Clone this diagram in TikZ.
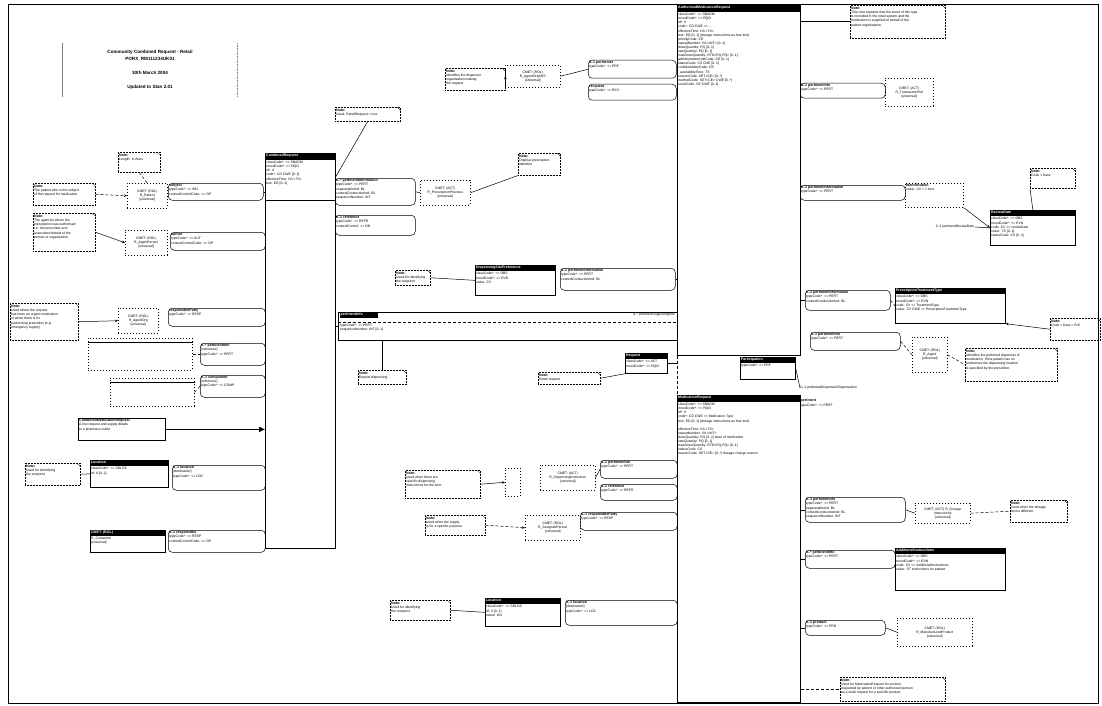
\documentclass[tikz,border=0pt]{standalone}
\usepackage{fontspec}
\setmainfont{Liberation Sans}
\usetikzlibrary{arrows.meta}
\newcommand\tf{\fontsize{3.4}{4.1}\selectfont}
\newcommand\tb{\fontsize{3.6}{4.2}\selectfont\bfseries}
% class box: name x y w h header body
\newcommand\Ucls[7]{%
\node[clsbox, minimum width=#4pt, minimum height=#5pt] (#1) at (#2,#3) {};
\fill ([shift={(0.3pt,-0.3pt)}]#1.north west) rectangle ([yshift=-6pt]#1.north east);
\node[anchor=north west, text=white, font=\tb, inner sep=0.8pt] at (#1.north west) {#6};
\node[anchor=north west, align=left, inner sep=1pt, font=\tf] at ([yshift=-6.3pt]#1.north west) {#7};}
% note: name x y w h text
\newcommand\Unote[6]{%
\node[umlnote, minimum width=#4pt, minimum height=#5pt] (#1) at (#2,#3) {};
\draw[line width=0.35pt] ([xshift=-3.5pt]#1.north east) -- ([yshift=-3.5pt]#1.north east);
\node[anchor=north west, align=left, inner sep=1pt, font=\tf] at ([yshift=-1pt]#1.north west) {{\tb Note:}\\#6};}
% stereotype (CMET) box: name x y w h text
\newcommand\Ust[6]{%
\node[stereo, minimum width=#4pt, minimum height=#5pt] (#1) at (#2,#3) {};
\node[align=center, inner sep=0.5pt, font=\tf] at (#1.center) {#6};}
% role label: name x y w h tab body
\newcommand\Urole[7]{%
\node[rolelab, minimum width=#4pt, minimum height=#5pt] (#1) at (#2,#3) {};
\node[anchor=north west, align=left, inner sep=1pt, font=\tf] at (#1.north west) {{\tb #6}\\#7};}
\tikzset{
  clsbox/.style={draw, line width=0.7pt, anchor=north west, inner sep=0pt},
  umlnote/.style={draw, densely dotted, line width=0.5pt, anchor=north west, inner sep=0pt},
  stereo/.style={draw, dashed, dash pattern=on 1pt off 2pt, line width=0.5pt, anchor=north west, inner sep=0pt},
  rolelab/.style={draw, line width=0.5pt, rounded corners=4pt, anchor=north west, inner sep=0pt},
  conn/.style={line width=0.5pt},
  dconn/.style={line width=0.5pt, densely dashed},
  arr/.style={line width=0.5pt, -{Stealth[length=3pt,width=2.5pt]}},
  bigarr/.style={line width=1.6pt, -{Triangle[length=6pt,width=5pt]}},
  tall/.style={draw, line width=0.8pt, anchor=north west, inner sep=0pt}
}
\begin{document}
\begin{tikzpicture}[x=1pt,y=-1pt]
\useasboundingbox (0,0) rectangle (1102,706);
\fill[white] (0,0) rectangle (1102,706);
\draw[line width=0.8pt] (8,4) rectangle (1098,703);

% ---------- title block
\coordinate (tl) at (62,43);
\coordinate (tr) at (237,43);
\draw[line width=0.6pt, gray] (tl) -- ++(0,54);
\draw[line width=0.6pt, densely dotted, gray] (tr) -- ++(0,54);
\node[font=\fontsize{4.6}{5.2}\selectfont\bfseries, align=center, inner sep=0pt] (ttext) at (150,70) {Community Combined Request - Retail\\[1pt]PORX\_RM111234UK01\\[9pt]30th March 2004\\[9pt]Updated to Stan 2.01};

% ---------- main tall boxes
\node[tall, minimum width=70pt, minimum height=395pt] (mainL) at (265,153) {};
\fill ([shift={(0.3pt,-0.3pt)}]mainL.north west) rectangle ([yshift=-7pt]mainL.north east);
\node[anchor=north west, text=white, font=\tb, inner sep=1pt] at (mainL.north west) {CombinedRequest};
\node[anchor=north west, align=left, inner sep=1pt, font=\tf] at ([yshift=-7pt]mainL.north west) {classCode*: <= SBADM\\moodCode*: <= RQO\\id*: II\\code*: CD CWE {}[0..1]\\effectiveTime: IVL<TS>\\text: ED {}[0..1]};
\draw[line width=0.6pt] ([yshift=-47pt]mainL.north west) -- ([yshift=-47pt]mainL.north east);

\node[tall, minimum width=123pt, minimum height=350pt] (mainU) at (677,5) {};
\fill ([shift={(0.3pt,-0.3pt)}]mainU.north west) rectangle ([yshift=-7pt]mainU.north east);
\node[anchor=north west, text=white, font=\tb, inner sep=1pt] at (mainU.north west) {AuthorisedMedicationRequest};
\node[anchor=north west, align=left, inner sep=1pt, font=\tf] at ([yshift=-7pt]mainU.north west) {classCode*: <= SBADM\\moodCode*: <= RQO\\id*: II\\code*: CD CWE <= ...\\effectiveTime: IVL<TS>\\text: ED {}[0..1] (dosage instructions as free text)\\priorityCode: CE\\repeatNumber: IVL<INT> {}[0..1]\\doseQuantity: PQ {}[0..1]\\rateQuantity: PQ {}[0..1]\\maxDoseQuantity: RTO<PQ,PQ> {}[0..1]\\administrationUnitCode: CE {}[0..1]\\statusCode: CS CNE {}[0..1]\\confidentialityCode: CE\\ \ \ availabilityTime: TS\\reasonCode: SET<CE> {}[0..*]\\methodCode: SET<CE> CWE {}[0..*]\\routeCode: CE CWE {}[0..1]};

\node[tall, minimum width=123pt, minimum height=307pt] (mainD) at (677,395) {};
\fill ([shift={(0.3pt,-0.3pt)}]mainD.north west) rectangle ([yshift=-7pt]mainD.north east);
\node[anchor=north west, text=white, font=\tb, inner sep=1pt] at (mainD.north west) {MedicationRequest};
\node[anchor=north west, align=left, inner sep=1pt, font=\tf] at ([yshift=-7pt]mainD.north west) {classCode*: <= SBADM\\moodCode*: <= RQO\\id*: II\\code*: CD CWE <= Medication Type\\text: ED {}[0..1]  (dosage instructions as free text)\\ \\effectiveTime: IVL<TS>\\repeatNumber: IVL<INT>\\doseQuantity: PQ {}[0..1] dose of medication\\rateQuantity: PQ {}[0..1]\\maxDoseQuantity: RTO<PQ,PQ> {}[0..1]\\statusCode: CS\\reasonCode: SET<CE> {}[0..*] dosage change reason};
\draw[dconn] (mainU.south west) -- (mainD.north west);

% ---------- middle band
\node[draw, line width=0.6pt, anchor=north west, minimum width=339pt, minimum height=28pt, inner sep=0pt] (band) at (338,312) {};
\fill (340,313) rectangle (378,318);
\node[anchor=north west, text=white, font=\tb, inner sep=0.5pt] at (340,312.5) {pertinentInfo};
\draw[densely dashed, line width=0.4pt] (338,322) -- (677,322);
\node[anchor=north west, align=left, inner sep=1pt, font=\tf] at (339,323) {typeCode*: <= PERT\\sequenceNumber: INT {}[0..1]};
\node[anchor=north east, font=\tf, inner sep=1pt] at (676,312) {0..* pertinentSupportingInfo};

% ---------- left column
\Unote{n1}{118}{152}{42}{20}{Length: 6 chars}
\Ust{s1}{127}{183}{40}{25}{CMET: (ROL)\\R\_Patient\\{}[universal]}
\draw[dconn] (n1.south) -- (s1.north);
\Unote{n2}{33}{183}{62}{22}{The patient who is the subject\\of the request for medication}
\draw[arr, densely dashed] (n2.east) -- (s1.west);
\Urole{r1}{168}{183}{95}{17}{subject}{typeCode*: <= SBJ\\contextControlCode: <= OP}
\draw[conn] (r1.east) -- (r1.east -| mainL.west);

\Unote{n3}{33}{213}{62}{38}{The agent by whom the\\prescription was authorised\\i.e. the prescriber and\\associated details of the\\person or organisation}
\Ust{s2}{125}{230}{42}{25}{CMET: (ROL)\\R\_AgentPerson\\{}[universal]}
\draw[arr] (n3.east) -- (s2.west);
\Urole{r2}{170}{232}{95}{18}{author}{typeCode*: <= AUT\\contextControlCode: <= OP}
\draw[conn] (r2.east) -- (r2.east -| mainL.west);

\Unote{n4}{10}{303}{68}{37}{Used where the request\\has been an urgent medication\\or when there is no\\authorising prescriber (e.g.\\emergency supply)}
\Ust{s3}{118}{308}{40}{25}{CMET: (ROL)\\R\_AgentOrg\\{}[universal]}
\draw[arr] (n4.east) -- (s3.west);
\Urole{r3}{168}{308}{97}{18}{responsibleParty}{typeCode*: <= RESP}
\draw[conn] (r3.east) -- (r3.east -| mainL.west);

\node[stereo, minimum width=104pt, minimum height=32pt] (e1) at (88,338) {};
\draw[line width=0.4pt] ([yshift=-4pt]e1.north west) -- ([yshift=-4pt]e1.north east);
\node[stereo, minimum width=84pt, minimum height=28pt] (e2) at (110,378) {};
\draw[line width=0.4pt] ([yshift=-4pt]e2.north west) -- ([yshift=-4pt]e2.north east);
\Urole{r4}{200}{343}{65}{22}{0..* pertinentInfo}{{}[reference]\\typeCode*: <= PERT}
\draw[conn] (r4.east) -- (r4.east -| mainL.west);
\draw[dconn] (e1.east) -- (r4.west);
\Urole{r5}{200}{375}{65}{22}{0..1 component}{{}[reference]\\typeCode*: <= COMP}
\draw[conn] (r5.east) -- (r5.east -| mainL.west);
\draw[dconn] (e2.east) -- (r5.west);

\node[draw, line width=0.8pt, anchor=north west, minimum width=87pt, minimum height=22pt, inner sep=0pt] (comp) at (78,418) {};
\node[anchor=north west, align=left, inner sep=1pt, font=\tf] at (comp.north west) {{\tb CombinedMedicationRequest}\\A line request and supply details\\to a pharmacy outlet};
\draw[bigarr] (comp.east) -- (comp.east -| mainL.west);

\Unote{n5}{25}{463}{55}{22}{Used for identifying\\the recipient}
\Ucls{c1}{90}{460}{78}{27}{Location}{classCode*: <= SDLOC\\id: II {}[0..1]}
\draw[conn] (n5.east) -- (c1.west);
\Urole{r6}{172}{465}{93}{25}{0..1 location}{{}[destination]\\typeCode*: <= LOC}
\draw[conn] (r6.east) -- (r6.east -| mainL.west);

\Ucls{c2}{90}{530}{75}{22}{CMET: (ROL)}{R\_Consumer\\{}[universal]}
\Urole{r7}{168}{530}{97}{22}{0..1 responsible}{typeCode*: <= RESP\\contextControlCode: <= OP}
\draw[conn] (r7.east) -- (r7.east -| mainL.west);

% ---------- middle upper
\Unote{n6}{335}{107}{65}{14}{Used: RetailRequest = true}
\Urole{r8}{335}{178}{80}{27}{1..* pertinentInformation}{typeCode*: <= PERT\\seperatableInd: BL\\contextConductionInd: BL\\sequenceNumber: INT}
\draw[conn] (n6.south) -- (r8.north west);
\Urole{r9}{335}{215}{80}{20}{0..1 reference}{typeCode*: <= REFR\\contextControl: <= ON}
\Ust{s4}{420}{180}{50}{25}{CMET: (ACT)\\R\_PrescriptionPrevious\\{}[universal]}
\draw[conn] (r8.east) -- (s4.west);
\Unote{n7}{518}{153}{42}{22}{Original prescription\\identifier}
\draw[conn] (n7.south west) -- (s4.east);

\Unote{n8}{445}{68}{60}{22}{Identifies the dispenser\\organisation making\\the request}
\Ust{s5}{505}{65}{55}{22}{CMET: (ROL)\\R\_AgentOrgSDS\\{}[universal]}
\draw[arr] (n8.east) -- (s5.west);
\Urole{r10}{588}{60}{88}{18}{0..1 performer}{typeCode*: <= PRF}
\draw[conn] (r10.east) -- (r10.east -| mainU.west);
\Urole{r11}{588}{84}{88}{16}{recipient}{typeCode*: <= RCV}
\draw[conn] (r11.east) -- (r11.east -| mainU.west);
\draw[conn] (s5.east) -- (r10.west);

\Unote{n9}{395}{270}{35}{15}{Used for identifying\\the recipient}
\Ucls{c3}{475}{265}{80}{30}{DispensingSitePreference}{classCode*: <= OBS\\moodCode*: <= EVN\\value: CV}
\draw[conn] (n9.east) -- (c3.west);
\Urole{r12}{560}{268}{115}{22}{0..1 pertinentInformation}{typeCode*: <= PERT\\contextConductionInd: BL}
\draw[conn] (r12.east) -- (r12.east -| mainU.west);

\draw[conn] (band.west) -- (band.west -| mainL.east);
\Unote{n10}{358}{370}{48}{14}{Repeat dispensing}
\draw[conn] (n10.north) -- (n10.north |- band.south);

\Ucls{c4}{625}{353}{42}{20}{Request}{classCode*: <= ACT\\moodCode*: <= RQO}
\Unote{n11}{538}{372}{62}{12}{Retail request}
\draw[conn] (n11.east) -- (c4.south west);
\draw[conn] (c4.east) -- (c4.east -| mainU.west);

% ---------- right upper
\Unote{n12}{850}{5}{95}{33}{This note explains that the event of this type\\is recorded in the retail system and the\\medication is supplied on behalf of the\\patient organisation.}
\draw[conn] (mainU.east |- n12.west) -- (n12.west);
\Urole{r13}{800}{83}{85}{15}{0..1 pertinentInfo}{typeCode*: <= PERT}
\Ust{s6}{885}{78}{48}{28}{CMET: (ACT)\\R\_TransactionRef\\{}[universal]}
\draw[conn] (r13.east) -- (s6.west);
\Urole{r14}{800}{185}{105}{15}{0..1 pertinentInformation}{typeCode*: <= PERT}
\node[stereo, minimum width=58pt, minimum height=24pt] (e3) at (905,183) {};
\node[anchor=north west, align=left, inner sep=1pt, font=\tf] at (e3.north west) {{\tb Identification}\\value: CV = 1 item};
\Unote{n13}{1030}{168}{45}{20}{Code = Data}
\Ucls{c5}{990}{210}{85}{35}{ReviewDate}{classCode*: <= OBS\\moodCode*: <= EVN\\code: CV <= reviewDate\\value: TS {}[0..1]\\statusCode: CS {}[0..1]}
\draw[conn] (n13.south west) -- (c5.north);
\draw[arr] (e3.south east) -- (c5.west);
\node[font=\tf, inner sep=0.5pt] (lab1) at (955,227) {0..1 pertinentReviewDate};
\draw[conn] (lab1.east) -- (c5.west);
\draw[conn] (r14.west) -- (r14.west -| mainU.east);

\Urole{r15}{805}{290}{85}{20}{0..1 pertinentInformation}{typeCode*: <= PERT\\contextConductionInd: BL}
\Ucls{c6}{895}{288}{110}{35}{PrescriptionTreatmentType}{classCode*: <= OBS\\moodCode*: <= EVN\\code: CV <= TreatmentType\\value: CV CWE <= PrescriptionTreatmentType}
\draw[dconn] (r15.east) -- (c6.west);
\Unote{n14}{1050}{318}{50}{22}{Code = Data = Poll}
\draw[arr] (n14.west) -- (c6.south east);
\draw[conn] (r15.west) -- (r15.west -| mainU.east);

\Urole{r16}{810}{332}{90}{18}{0..1 pertinentInfo}{typeCode*: <= PERT}
\Ust{s7}{912}{337}{35}{35}{CMET: (ROL)\\R\_Agent\\{}[universal]}
\draw[dconn] (r16.east) -- (s7.west);
\Unote{n15}{965}{348}{92}{33}{Identifies the preferred dispenser of\\medication. If the patient has no\\preference the dispensing location\\is specified by the prescriber.}
\draw[dconn] (s7.east) -- (n15.west);

\Ucls{c7}{740}{357}{55}{22}{Participation}{typeCode*: <= PRF}
\node[font=\tf, anchor=west, inner sep=0.5pt] (lab2) at (800,388) {0..1 preferredDispenser/Organisation};
\node[font=\tf, anchor=west, align=left, inner sep=0.5pt] (lab3) at (800,403) {{\tb pertinent}\\typeCode*: <= PERT};
\draw[conn] (c7.east) -- (lab2.west);

% ---------- right lower
\Urole{r19}{805}{497}{100}{25}{0..1 pertinentInfo}{typeCode*: <= PERT\\seperatableInd: BL\\contextConductionInd: BL\\sequenceNumber: INT}
\draw[conn] (r19.west) -- (r19.west -| mainD.east);
\Ust{s8}{915}{503}{55}{20}{CMET: (ACT) R\_Dosage\\Instructions\\{}[universal]}
\draw[conn] (r19.east) -- (s8.west);
\Unote{n16}{1010}{500}{57}{22}{Used when the dosage\\text is different}
\draw[dconn] (s8.east) -- (n16.west);

\Urole{r20}{805}{550}{90}{18}{0..* pertinentInfo}{typeCode*: <= PERT}
\Ucls{c8}{895}{548}{110}{42}{AdditionalInstructions}{classCode*: <= OBS\\moodCode*: <= EVN\\code: CV <= AdditionalInstructions\\value: ST  instructions for patient}
\draw[dconn] (r20.east) -- (c8.west);
\draw[conn] (r20.west) -- (r20.west -| mainD.east);

\Urole{r21}{805}{620}{80}{15}{0..1 product}{typeCode*: <= PRD}
\Ust{s9}{897}{618}{75}{28}{CMET: (ROL)\\R\_ManufacturedProduct\\{}[universal]}
\draw[conn] (r21.east) -- (s9.west);
\draw[conn] (r21.west) -- (r21.west -| mainD.east);

\Unote{n17}{840}{677}{105}{24}{Used for MedicationRequest for an item\\requested by patient or other authorised person\\as a retail request for a specific product}
\draw[dconn] (mainD.east |- n17.west) -- (n17.west);

% ---------- lower middle
\Unote{n18}{405}{470}{75}{28}{Used when there are\\specific dispensing\\instructions for the item}
\node[stereo, minimum width=15pt, minimum height=28pt] (e4) at (505,468) {};
\draw[arr] (n18.east) -- (e4.west);
\Ust{s10}{540}{465}{55}{25}{CMET: (ACT)\\R\_DispensingInstruction\\{}[universal]}
\Urole{r22}{600}{460}{77}{18}{0..1 pertinentInfo}{typeCode*: <= PERT}
\draw[conn] (r22.east) -- (r22.east -| mainD.west);
\Urole{r23}{600}{484}{77}{16}{0..1 reference}{typeCode*: <= REFR}
\draw[conn] (r23.east) -- (r23.east -| mainD.west);
\draw[conn] (s10.east) -- (r22.west);

\Unote{n19}{425}{515}{60}{20}{Used when the supply\\is for a specific purpose}
\Ust{s11}{525}{515}{55}{25}{CMET: (ROL)\\R\_AssignedPerson\\{}[universal]}
\draw[arr, densely dashed] (n19.east) -- (s11.west);
\Urole{r24}{580}{512}{97}{18}{0..1 responsibleParty}{typeCode*: <= RESP}
\draw[conn] (r24.east) -- (r24.east -| mainD.west);

\Unote{n20}{390}{600}{60}{20}{Used for identifying\\the recipient}
\Ucls{c9}{485}{598}{75}{28}{Location}{classCode*: <= SDLOC\\id: II {}[0..1]\\name: ON}
\draw[conn] (n20.east) -- (c9.west);
\Urole{r25}{565}{600}{112}{25}{0..1 location}{{}[destination]\\typeCode*: <= LOC}
\draw[conn] (r25.east) -- (r25.east -| mainD.west);
\end{tikzpicture}
\end{document}
